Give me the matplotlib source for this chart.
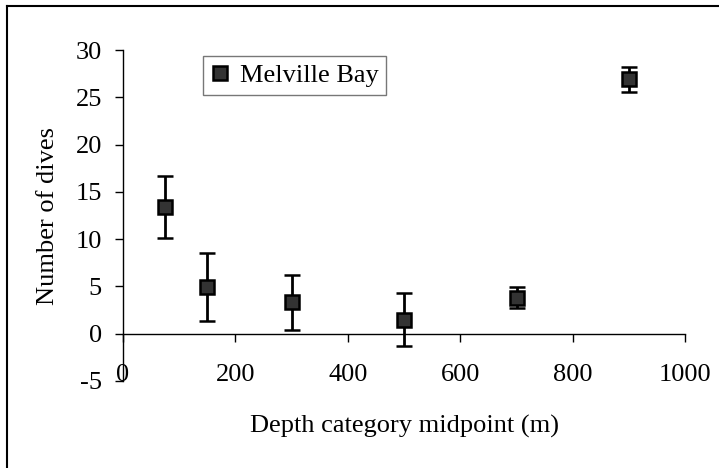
import matplotlib
matplotlib.use("Agg")
import matplotlib.pyplot as plt
from matplotlib.lines import Line2D

plt.rcParams['font.family'] = ['Liberation Serif', 'DejaVu Serif']
plt.rcParams['axes.unicode_minus'] = False

# mean number of dives per depth bin, with +/- error
depth_mid = [75, 150, 300, 500, 700, 900]
dives = [13.4, 4.9, 3.3, 1.5, 3.8, 26.9]
dives_err = [3.3, 3.6, 2.9, 2.8, 1.1, 1.3]
x_ticks = [0, 200, 400, 600, 800, 1000]
y_ticks = [-5, 0, 5, 10, 15, 20, 25, 30]

FS = 19

fig = plt.figure(figsize=(7.19, 4.68), dpi=100)
ax = fig.add_axes([0.171, 0.186, 0.782, 0.707])

ax.errorbar(depth_mid, dives, yerr=dives_err, fmt='s', color='black',
            mfc='#333333', mec='black', ms=10.5, mew=1.8,
            elinewidth=2.0, capsize=5.6, capthick=2.0, zorder=3)

ax.set_xlim(0, 1000)
ax.set_ylim(-5, 30)
ax.set_xticks(x_ticks)
ax.set_yticks(y_ticks)

# x axis sits on y=0, labels stay at the bottom
ax.spines['bottom'].set_position(('data', 0))
ax.spines['top'].set_visible(False)
ax.spines['right'].set_visible(False)
for s in ('left', 'bottom'):
    ax.spines[s].set_linewidth(1.0)
ax.tick_params(axis='x', direction='out', length=5.8, width=1.0, labelbottom=False)
ax.tick_params(axis='y', direction='out', length=5.8, width=1.0, pad=9.4, labelsize=FS)
for t in x_ticks:
    ax.text(t, -4.35, str(t), ha='center', va='center', fontsize=FS)

ax.set_ylabel('Number of dives', fontsize=FS)
ax.yaxis.set_label_coords(-0.133, 0.5)
ax.yaxis.label.set_va('center')
ax.set_xlabel('Depth category midpoint (m)', fontsize=FS)
ax.xaxis.set_label_coords(0.5, -0.137)
ax.xaxis.label.set_va('center')

handle = Line2D([], [], marker='s', ls='none', mfc='#333333', mec='black', ms=10.5, mew=1.8)
leg = ax.legend([handle], ['Melville Bay'], loc='upper left', bbox_to_anchor=(0.142, 0.982),
                borderaxespad=0, fontsize=FS, frameon=True, fancybox=False,
                handlelength=0.7, handletextpad=0.4, borderpad=0.3)
leg.get_frame().set_edgecolor('#555555')
leg.get_frame().set_linewidth(1.0)

# outer chart frame (top and left edges visible)
fig.add_artist(Line2D([7 / 719, 7 / 719], [0, 1 - 6 / 468], transform=fig.transFigure,
                      color='black', lw=1.5))
fig.add_artist(Line2D([7 / 719, 1], [1 - 6 / 468, 1 - 6 / 468], transform=fig.transFigure,
                      color='black', lw=1.5))

fig.savefig('out.png', dpi=100)
